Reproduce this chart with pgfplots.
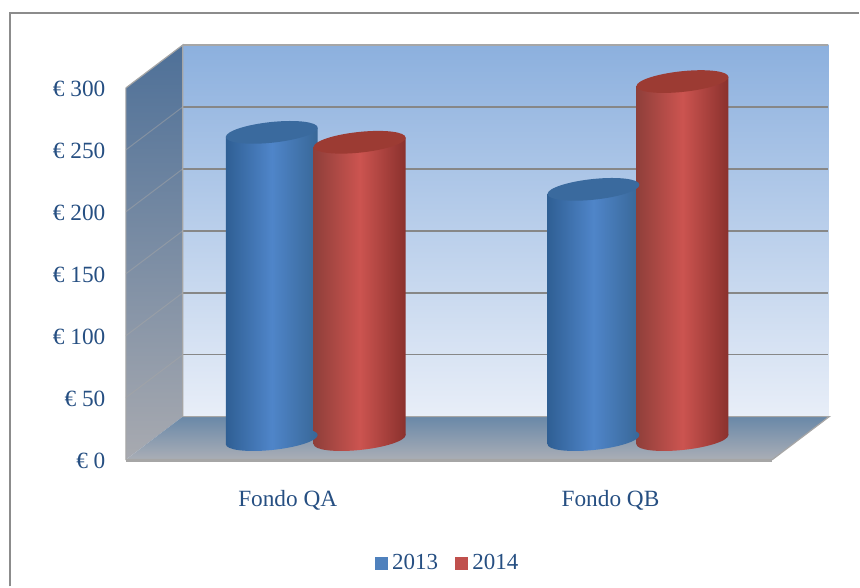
\documentclass[border=0pt]{standalone}
\usepackage{fontspec}
\setmainfont{Liberation Serif}
\usepackage{pgfplots}
\pgfplotsset{compat=1.18}
\definecolor{txt}{HTML}{264F82}
\definecolor{bl}{HTML}{2F5F94}
\definecolor{bm}{HTML}{4F85C9}
\definecolor{br}{HTML}{386797}
\definecolor{bt}{HTML}{3A6A9E}
\definecolor{rl}{HTML}{8F3F3A}
\definecolor{rm}{HTML}{CC5450}
\definecolor{rr}{HTML}{8A312D}
\definecolor{rt}{HTML}{9C3B33}
\definecolor{leg1}{HTML}{4F81BD}
\definecolor{leg2}{HTML}{C0504D}
\pgfdeclarehorizontalshading{bshade}{100bp}{color(0bp)=(bl); color(25bp)=(bl); color(50bp)=(bm); color(75bp)=(br); color(100bp)=(br)}
\pgfdeclarehorizontalshading{rshade}{100bp}{color(0bp)=(rl); color(25bp)=(rl); color(50bp)=(rm); color(75bp)=(rr); color(100bp)=(rr)}
\newcommand{\ellpath}{\pgfpathellipse{\pgfpointorigin}{\pgfqpoint{46pt}{4.6pt}}{\pgfqpoint{0pt}{10.4pt}}}
\pgfdeclareplotmark{capb}{\ellpath\pgfsetfillcolor{bt}\pgfusepathqfill}
\pgfdeclareplotmark{capr}{\ellpath\pgfsetfillcolor{rt}\pgfusepathqfill}
\pgfdeclareplotmark{baseb}{\ellpath\pgfshadepath{bshade}{0}\pgfusepath{discard}}
\pgfdeclareplotmark{baser}{\ellpath\pgfshadepath{rshade}{0}\pgfusepath{discard}}
\begin{document}
\begin{tikzpicture}
\begin{axis}[
  scale only axis, width=704pt, height=418pt,
  xmin=126, xmax=830, ymin=-18.55, ymax=318.55,
  clip=false,
  axis line style={draw=none},
  major tick length=0pt,
  ytick={-16.13,33.87,83.87,133.87,183.87,233.87,283.87},
  yticklabels={€ 0,€ 50,€ 100,€ 150,€ 200,€ 250,€ 300},
  xtick={288,611},
  xticklabels={Fondo QA,Fondo QB},
  tick label style={font=\fontsize{23.3}{26}\selectfont,text=txt},
  yticklabel style={xshift=-17pt,yshift=-1pt},
  xticklabel style={yshift=-24pt},
  legend style={at={(axis cs:448,-99.6)},anchor=center,draw=none,fill=none,
    font=\fontsize{23}{26}\selectfont,text=txt,legend columns=2,
    /tikz/every odd column/.append style={column sep=3pt},
    /tikz/every even column/.append style={column sep=15pt}},
  legend cell align=left,
]
% canvas and frame
\addplot[draw=none,forget plot] coordinates {(0,-118.55) (860,354.84)};
\addplot[color=black!45,line width=1.5pt,forget plot] coordinates {(10,-118.55) (10,344.35) (860,344.35)};
% walls and floor
\addplot[draw=none,forget plot,top color={rgb,255:red,140;green,176;blue,222},bottom color={rgb,255:red,232;green,238;blue,248}] coordinates {(183,318.55) (829,318.55) (829,18.55) (183,18.55)} --cycle;
\addplot[draw=none,forget plot,top color={rgb,255:red,78;green,112;blue,152},bottom color={rgb,255:red,168;green,170;blue,176}] coordinates {(126,283.87) (183,318.55) (183,18.55) (126,-16.13)} --cycle;
\addplot[draw=none,forget plot,top color={rgb,255:red,105;green,136;blue,168},bottom color={rgb,255:red,170;green,174;blue,182}] coordinates {(183,18.55) (830,18.55) (773,-16.13) (126,-16.13)} --cycle;
% grid
\pgfplotsinvokeforeach{68.55,118.55,168.55,218.55,268.55}{
  \addplot[color=black!47,line width=1.6pt,forget plot] coordinates {(183,#1) (829,#1)};
}
\addplot[color=black!35,line width=1.4pt,forget plot] coordinates {(183,318.55) (829,318.55)};
\addplot[color=black!35,line width=1.2pt,forget plot] coordinates {(126,283.87) (183,318.55) (183,18.55) (830,18.55) (773,-16.13) (126,-16.13) (126,283.87)};
\addplot[color=black!35,line width=2.4pt,forget plot] coordinates {(126,-17.3) (773,-17.3)};
\addplot[color=black!35,opacity=0.5,line width=1pt,forget plot] coordinates {(126,33.87) (183,68.55)};
\addplot[color=black!35,opacity=0.5,line width=1pt,forget plot] coordinates {(126,83.87) (183,118.55)};
\addplot[color=black!35,opacity=0.5,line width=1pt,forget plot] coordinates {(126,133.87) (183,168.55)};
\addplot[color=black!35,opacity=0.5,line width=1pt,forget plot] coordinates {(126,183.87) (183,218.55)};
\addplot[color=black!35,opacity=0.5,line width=1pt,forget plot] coordinates {(126,233.87) (183,268.55)};
% Fondo QA 2013
\addplot[only marks,mark=baseb,forget plot] coordinates {(272,0)};
\addplot[draw=none,forget plot,left color=bl,right color=br,middle color=bm] coordinates {(226,-3.7) (226,244.3) (318,251.7) (318,3.7)} --cycle;
\addplot[only marks,mark=capb,forget plot] coordinates {(272,248)};
% Fondo QA 2014
\addplot[only marks,mark=baser,forget plot] coordinates {(360,0)};
\addplot[draw=none,forget plot,left color=rl,right color=rr,middle color=rm] coordinates {(314,-3.7) (314,236.3) (406,243.7) (406,3.7)} --cycle;
\addplot[only marks,mark=capr,forget plot] coordinates {(360,240)};
% Fondo QB 2013
\addplot[only marks,mark=baseb,forget plot] coordinates {(594,0)};
\addplot[draw=none,forget plot,left color=bl,right color=br,middle color=bm] coordinates {(548,-3.7) (548,198.3) (640,205.7) (640,3.7)} --cycle;
\addplot[only marks,mark=capb,forget plot] coordinates {(594,202)};
% Fondo QB 2014
\addplot[only marks,mark=baser,forget plot] coordinates {(683,0)};
\addplot[draw=none,forget plot,left color=rl,right color=rr,middle color=rm] coordinates {(637,-3.7) (637,285.3) (729,292.7) (729,3.7)} --cycle;
\addplot[only marks,mark=capr,forget plot] coordinates {(683,289)};
% legend
\addlegendimage{legend image code/.code={\fill[leg1] (0pt,-6pt) rectangle (12pt,6pt);}}
\addlegendentry{2013}
\addlegendimage{legend image code/.code={\fill[leg2] (0pt,-6pt) rectangle (12pt,6pt);}}
\addlegendentry{2014}
\end{axis}
\end{tikzpicture}
\end{document}
